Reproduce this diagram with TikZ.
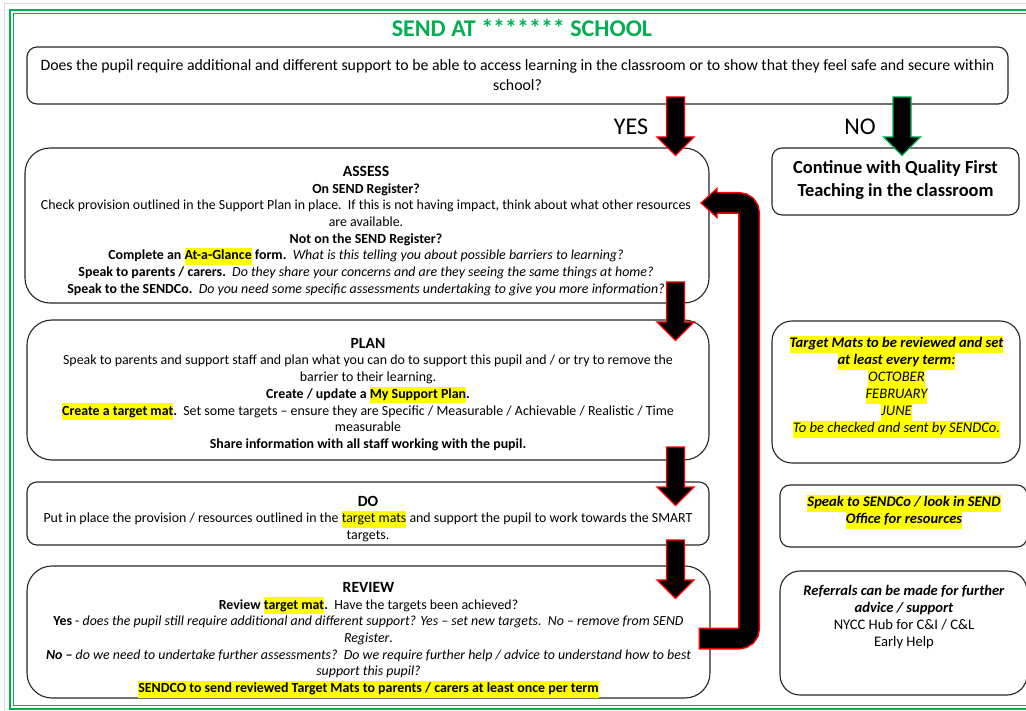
\documentclass[tikz,border=0pt]{standalone}
\usepackage{fontspec}
\setmainfont{Carlito}
\usetikzlibrary{calc}
\definecolor{sendgreen}{HTML}{00B050}
\definecolor{hly}{HTML}{FFFF00}
\newcommand\hlt[1]{{\setlength{\fboxsep}{0pt}\colorbox{hly}{\strut #1}}}
\newcommand\hd[1]{{\fontsize{15.6}{16.7}\selectfont\bfseries #1}}
\tikzset{
  box/.style={draw=black!85, line width=1.1pt, rounded corners=#1, inner sep=0pt},
  box/.default=10pt,
  txt/.style={align=center, inner sep=0pt, font=\fontsize{13.9}{16.7}\selectfont},
  rtxt/.style={align=center, inner sep=0pt, font=\fontsize{14.6}{17}\selectfont},
  redarrow/.style={fill=black, draw=red, line width=1.3pt, line join=miter},
  greenarrow/.style={fill=black, draw=sendgreen, line width=1.3pt, line join=miter},
  downarrow/.pic={\path[pic actions] (-9,0) -- (9,0) -- (9,40) -- (18.5,40) -- (0,58.5) -- (-18.5,40) -- (-9,40) -- cycle;}
}
\begin{document}
\begin{tikzpicture}[x=1pt,y=-1pt]
\useasboundingbox (0,0) rectangle (1026,711);
\clip (0,0) rectangle (1026,711);
\fill[white] (0,0) rectangle (1026,711);
% page frame
\draw[black!15, line width=1pt] (4,711) -- (4,4) -- (1030,4);
\draw[sendgreen, line width=2pt] (10,10) rectangle (1040,709);
\draw[sendgreen, line width=1pt] (13.5,13.5) rectangle (1036,705.5);

% title
\node[font=\fontsize{24}{28}\selectfont\bfseries, text=sendgreen, inner sep=0pt] (title) at (522,28) {SEND AT ******* SCHOOL};

% question
\node[box, minimum width=981pt, minimum height=57pt] (q) at (517.5,75.5) {};
\node[txt, font=\fontsize{15.8}{20}\selectfont] (qT) at (517.5,75) {Does the pupil require additional and different support to be able to access learning in the classroom or to show that they feel safe and secure within\\school?};

\node[font=\fontsize{24}{28}\selectfont, inner sep=0pt] (yes) at (631,127) {YES};
\node[font=\fontsize{24}{28}\selectfont, inner sep=0pt] (no) at (860,127) {NO};

% ASSESS
\node[box=25pt, minimum width=684pt, minimum height=155pt] (assess) at (367,225.5) {};
\node[txt] (assessT) at (366,231) {\hd{ASSESS}\\
\textbf{On SEND Register?}\\
Check provision outlined in the Support Plan in place.\ \ If this is not having impact, think about what other resources\\
are available.\\
\textbf{Not on the SEND Register?}\\
\textbf{Complete an \hlt{At-a-Glance} form.}\ \ \textit{What is this telling you about possible barriers to learning?}\\
\textbf{Speak to parents / carers.}\ \ \textit{Do they share your concerns and are they seeing the same things at home?}\\
\textbf{Speak to the SENDCo.}\ \ \textit{Do you need some specific assessments undertaking to give you more information?}};

% PLAN
\node[box=25pt, minimum width=682pt, minimum height=140pt] (plan) at (368,390) {};
\node[txt] (planT) at (368,394.5) {\hd{PLAN}\\
Speak to parents and support staff and plan what you can do to support this pupil and / or try to remove the\\
barrier to their learning.\\
\textbf{Create / update a \hlt{My Support Plan}.}\\
\textbf{\hlt{Create a target mat}.}\ \ Set some targets -- ensure they are Specific / Measurable / Achievable / Realistic / Time\\
measurable\\
\textbf{Share information with all staff working with the pupil.}};

% DO
\node[box, minimum width=682pt, minimum height=63pt] (do) at (368,513.5) {};
\node[txt] (doT) at (368,519) {\hd{DO}\\
Put in place the provision / resources outlined in the \hlt{target mats} and support the pupil to work towards the SMART\\
targets.};

% REVIEW
\node[box=25pt, minimum width=683pt, minimum height=132pt] (review) at (368.5,632) {};
\node[txt] (reviewT) at (368.5,640) {\hd{REVIEW}\\
\textbf{Review \hlt{target mat}.}\ \ Have the targets been achieved?\\
\textbf{Yes} - \textit{does the pupil still require additional and different support? Yes -- set new targets.\ \ No -- remove from SEND}\\
\textit{Register}.\\
\textbf{\textit{No --}} \textit{do we need to undertake further assessments?\ \ Do we require further help / advice to understand how to best}\\
\textit{support this pupil?}\\
\textbf{\hlt{SENDCO to send reviewed Target Mats to parents / carers at least once per term}}};

% right boxes
\node[box, minimum width=247pt, minimum height=67pt] (qft) at (895.5,181.5) {};
\node[txt, font=\fontsize{18.4}{23}\selectfont\bfseries] (qftT) at (895.5,180.5) {Continue with Quality First\\Teaching in the classroom};

\node[box=20pt, minimum width=248pt, minimum height=142pt] (mats) at (896,392) {};
\node[rtxt] (matsT) at (896.5,386.5) {\textbf{\textit{\hlt{Target Mats to be reviewed and set}}}\\
\textbf{\textit{\hlt{at least every term:}}}\\
\textit{\hlt{OCTOBER}}\\
\textit{\hlt{FEBRUARY}}\\
\textit{\hlt{JUNE}}\\
\textit{\hlt{To be checked and sent by SENDCo.}}};

\node[box, minimum width=247pt, minimum height=62pt] (speak) at (903.5,516) {};
\node[rtxt] (speakT) at (904,512) {\textbf{\textit{\hlt{Speak to SENDCo / look in SEND}}}\\
\textbf{\textit{\hlt{Office for resources}}}};

\node[box=20pt, minimum width=247pt, minimum height=124pt] (refs) at (903.5,633) {};
\node[rtxt] (refsT) at (904,617) {\textbf{\textit{Referrals can be made for further}}\\
\textbf{\textit{advice / support}}\\
NYCC Hub for C\&I / C\&L\\
Early Help};

% block arrows
\coordinate (yesTop) at (675.5,97);
\coordinate (noTop) at (902,97);
\coordinate (apTop) at (675.5,282);
\coordinate (pdTop) at (675.5,447);
\coordinate (drTop) at (675.5,540);
\pic[redarrow] at (yesTop) {downarrow};
\pic[greenarrow] at (noTop) {downarrow};
\pic[redarrow] at (apTop) {downarrow};
\pic[redarrow] at (pdTop) {downarrow};
\pic[redarrow] at (drTop) {downarrow};

% loop arrow back to ASSESS
\coordinate (loopS) at (700,638.5);
\coordinate (loopC1) at (749,638.5);
\coordinate (loopC2) at (749,203);
\coordinate (loopE) at (716,203);
\coordinate (loopTip) at (701,203);
\draw[red, line width=22pt, rounded corners=10pt] ($(loopS)+(-1.5,0)$) -- (loopC1) -- (loopC2) -- (loopE);
\filldraw[redarrow] (loopTip) -- (717,188.5) -- (717,217.5) -- cycle;
\draw[black, line width=19pt, rounded corners=10pt] (loopS) -- (loopC1) -- (loopC2) -- (712,203);
\end{tikzpicture}
\end{document}
